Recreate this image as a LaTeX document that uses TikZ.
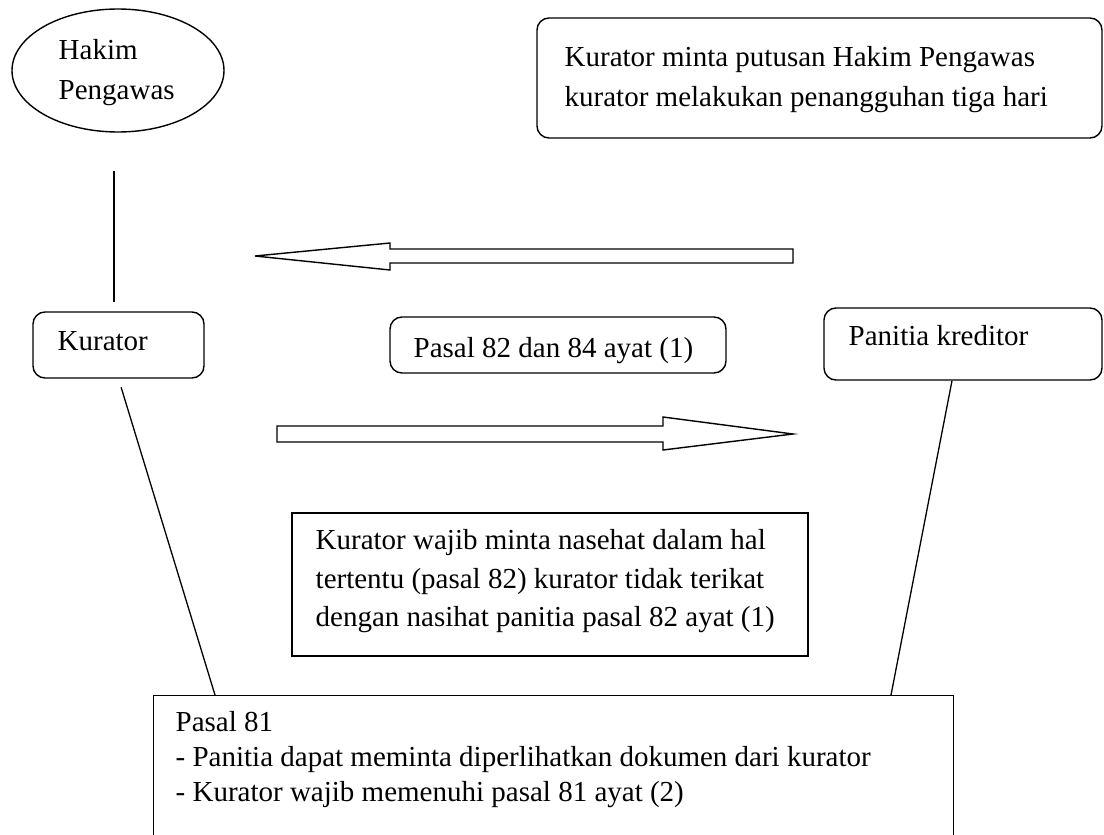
\documentclass[tikz,border=0pt]{standalone}
\usepackage{fontspec}
\setmainfont{Liberation Serif}
\usetikzlibrary{shapes.geometric,calc}

\begin{document}
\begin{tikzpicture}[x=1pt,y=-1pt,
  line width=1.4pt,
  % text blocks: anchor base west sits on the baseline of the last line
  txt/.style={font=\fontsize{29}{37}\selectfont, align=left, inner sep=0pt, anchor=base west},
  roundbox/.style={draw, rounded corners=12pt, inner sep=0pt},
  squarebox/.style={draw, inner sep=0pt},
  conn/.style={draw, line width=1.3pt},
  blockarrow/.style={draw, line width=1.4pt, line join=miter, fill=white}
]
\useasboundingbox (0,0) rectangle (1104,835);
\clip (0,0) rectangle (1104,835);

% Judge (ellipse)
\node[draw, ellipse, minimum width=212pt, minimum height=123pt, inner sep=0pt] (hakim) at (118,70.5) {};
\node[txt, font=\fontsize{29}{40}\selectfont] (hakimtxt) at (58,99.5) {Hakim\\Pengawas};

% Decision request box
\node[roundbox, minimum width=565pt, minimum height=120pt] (putusan) at (819.5,78) {};
\node[txt, font=\fontsize{29}{40}\selectfont] (putusantxt) at (564,106.5)
  {Kurator minta putusan Hakim Pengawas\\kurator melakukan penangguhan tiga hari};

% Main parties
\node[roundbox, minimum width=171pt, minimum height=66pt] (kur) at (118.5,345) {};
\node[txt] (kurtxt) at (57,350) {Kurator};
\node[roundbox, minimum width=336pt, minimum height=56pt] (pasal82) at (558,345) {};
\node[txt] (pasal82txt) at (413,357) {Pasal 82 dan 84 ayat (1)};
\node[roundbox, minimum width=278pt, minimum height=72pt] (pan) at (963,344) {};
\node[txt] (pantxt) at (848,345) {Panitia kreditor};

% Advice box
\node[squarebox, minimum width=516pt, minimum height=143pt] (nasehat) at (550,584.5) {};
\node[txt, font=\fontsize{29}{38.5}\selectfont] (nasehattxt) at (315,626.5)
  {Kurator wajib minta nasehat dalam hal\\tertentu (pasal 82) kurator tidak terikat\\dengan nasihat panitia pasal 82 ayat (1)};

% Article 81 box (runs past the lower edge)
\node[squarebox, anchor=north west, minimum width=800pt, minimum height=200pt] (pasal81) at (153,695) {};
\node[txt, font=\fontsize{29}{35}\selectfont] (pasal81txt) at (175,801.5)
  {Pasal 81\\- Panitia dapat meminta diperlihatkan dokumen dari kurator\\- Kurator wajib memenuhi pasal 81 ayat (2)};

% Connectors
\draw[conn, shorten <=38pt, shorten >=9pt] ([xshift=-4pt]hakim.south) -- ([xshift=-4.5pt]kur.north);
\draw[conn, shorten <=9pt] (kur.south) -- ($(pasal81.north west)+(62,0)$);
\draw[conn] ($(pan.south)+(-11,0)$) -- ($(pasal81.north west)+(738,0)$);

% Block arrows between Kurator and Panitia kreditor
\draw[blockarrow] (255,256) -- (390,243) -- (390,249) -- (793,249) -- (793,263)
  -- (390,263) -- (390,270) -- cycle;
\draw[blockarrow] (277,426) -- (663,426) -- (663,417) -- (793,434) -- (663,450)
  -- (663,442) -- (277,442) -- cycle;
\end{tikzpicture}
\end{document}
